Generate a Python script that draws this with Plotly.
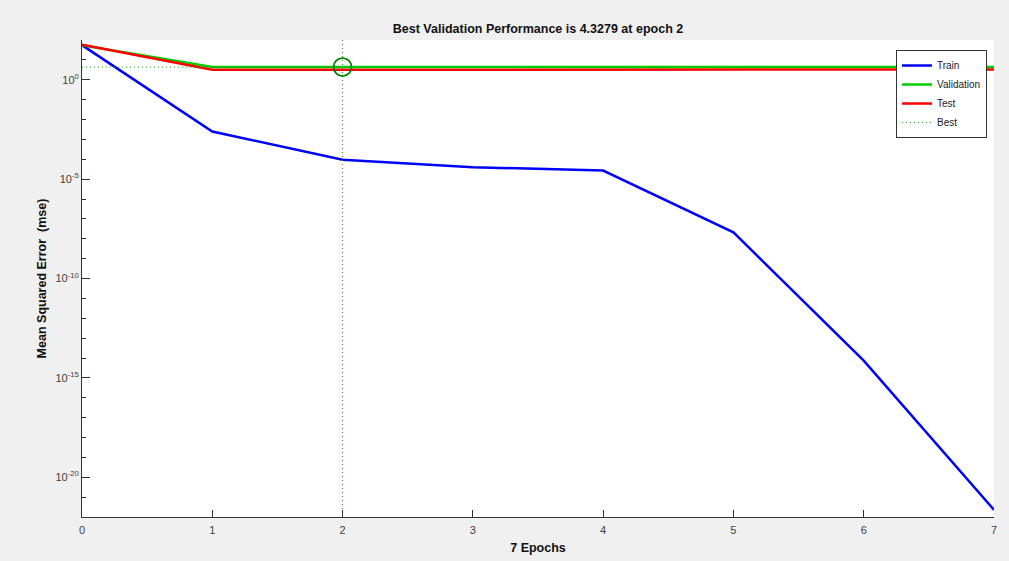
import plotly.graph_objects as go
import numpy as np

epochs = [0, 1, 2, 3, 4, 5, 6, 7]
train_mse = [55, 2.5e-3, 9.4e-5, 4.0e-5, 2.7e-5, 2.1e-8, 7.4e-15, 2.3e-22]
val_mse = [55, 4.36, 4.3279, 4.34, 4.36, 4.38, 4.40, 4.42]
test_mse = [57, 3.15, 3.2, 3.22, 3.25, 3.28, 3.3, 3.32]

y_major = [0, -5, -10, -15, -20]
y_range_exp = [-22, 2]

best_epoch = int(np.argmin(val_mse))
best_val = val_mse[best_epoch]

fig = go.Figure()
fig.add_trace(go.Scatter(x=epochs, y=train_mse, mode="lines", name="Train",
                         line=dict(color="#0000ff", width=2.5)))
fig.add_trace(go.Scatter(x=epochs, y=val_mse, mode="lines", name="Validation",
                         line=dict(color="#00cc00", width=2.5)))
fig.add_trace(go.Scatter(x=epochs, y=test_mse, mode="lines", name="Test",
                         line=dict(color="#ff0000", width=2.5)))
fig.add_trace(go.Scatter(x=[0, best_epoch], y=[best_val, best_val], mode="lines", name="Best",
                         line=dict(color="#229922", width=1, dash="1px,3px")))
fig.add_trace(go.Scatter(x=[best_epoch, best_epoch], y=[10**y_range_exp[0], 10**y_range_exp[1]],
                         mode="lines", showlegend=False,
                         line=dict(color="#229922", width=1, dash="1px,3px")))
fig.add_trace(go.Scatter(x=[best_epoch], y=[best_val], mode="markers", showlegend=False,
                         marker=dict(symbol="circle-open", size=18, color="#008000",
                                     line=dict(width=1.8, color="#008000"))))

title_text = f"Best Validation Performance is {best_val:.4f} at epoch {best_epoch}"

minor_vals = [10.0**e for e in range(y_range_exp[0], y_range_exp[1] + 1) if e % 5 != 0]

fig.update_layout(
    width=1009, height=561,
    paper_bgcolor="#f0f0f0", plot_bgcolor="#ffffff",
    margin=dict(l=82, r=15, t=40, b=44, autoexpand=False),
    font=dict(family="Liberation Sans, Arial, sans-serif", color="#404040", size=11),
    title=dict(text=f"<b>{title_text}</b>", x=0.5, xref="paper", xanchor="center",
               y=1 - 29 / 561, yref="container", yanchor="middle",
               font=dict(size=12.5, color="#111111")),
    showlegend=True,
    legend=dict(x=0.8925, y=0.979, xanchor="left", yanchor="top",
                bgcolor="#ffffff", bordercolor="#333333", borderwidth=1,
                font=dict(size=10, color="#1a1a1a"), tracegroupgap=0,
                itemwidth=30),
)

fig.update_xaxes(
    range=[0, 7], tickvals=epochs, ticktext=[str(e) for e in epochs],
    ticks="inside", ticklen=7, tickcolor="#333333", ticklabelstandoff=3,
    showline=True, linecolor="#333333", linewidth=1, mirror=False,
    showgrid=False, zeroline=False, automargin=False,
    title=dict(text="<b>7 Epochs</b>", font=dict(size=12.5, color="#111111"), standoff=8),
    tickfont=dict(size=11, color="#404040"),
)
fig.update_yaxes(
    type="log", range=y_range_exp,
    tickvals=[10.0**e for e in y_major],
    ticktext=[f"10<sup>{e}</sup>" for e in y_major],
    ticks="inside", ticklen=8, tickcolor="#333333",
    minor=dict(tickvals=minor_vals, ticks="inside", ticklen=4, tickcolor="#333333", showgrid=False),
    showline=True, linecolor="#333333", linewidth=1, mirror=False,
    showgrid=False, zeroline=False, automargin=False,
    title=dict(text="<b>Mean Squared Error  (mse)</b>", font=dict(size=12.5, color="#111111"), standoff=6),
    tickfont=dict(size=11, color="#404040"),
)

fig.write_html("out.html", config={"displayModeBar": False},
               post_script="document.body.style.margin='0';document.body.style.background='#f0f0f0';")
